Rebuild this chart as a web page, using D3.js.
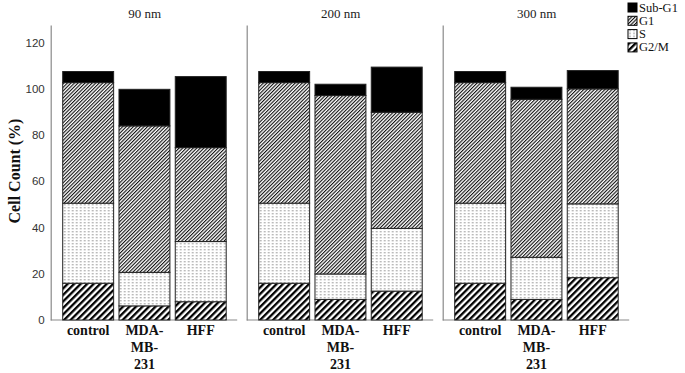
<!DOCTYPE html>
<html>
<head>
<meta charset="utf-8">
<script src="https://cdn.jsdelivr.net/npm/d3@7"></script>
<style>
  body { margin: 0; background: #fff; }
  svg { display: block; }
</style>
</head>
<body>
<div id="chart"></div>
<script>
// panels, cell lines and phases
const sizes = ["90 nm", "200 nm", "300 nm"];
const cells = ["control", "MDA-MB-231", "HFF"];
const cellLabels = [["control"], ["MDA-", "MB-", "231"], ["HFF"]];
const phases = ["G2/M", "S", "G1", "Sub-G1"];   // bottom to top
const legendOrder = ["Sub-G1", "G1", "S", "G2/M"];
const yTicks = [0, 20, 40, 60, 80, 100, 120];

// values per panel (rows) and cell line (columns), in %
const g2m   = [[15.9, 6.1, 7.9], [15.9, 8.9, 12.5], [15.9, 8.9, 18.3]];
const sPh   = [[34.6, 14.5, 26.0], [34.6, 11.0, 27.1], [34.6, 18.2, 31.9]];
const g1    = [[52.1, 63.3, 40.6], [52.1, 77.1, 50.2], [52.1, 68.3, 49.7]];
const subG1 = [[4.8, 15.8, 30.7], [4.8, 4.9, 19.5], [4.8, 5.2, 7.9]];

const width = 685, height = 373;
const svg = d3.select("#chart").append("svg")
    .attr("width", width)
    .attr("height", height);

// fill patterns
const defs = svg.append("defs");
function stripes(id, period, thick, color) {
    const p = defs.append("pattern")
        .attr("id", id)
        .attr("patternUnits", "userSpaceOnUse")
        .attr("width", period).attr("height", 10)
        .attr("patternTransform", "rotate(45)");
    p.append("rect").attr("width", period).attr("height", 10).attr("fill", "#fff");
    p.append("rect").attr("width", thick).attr("height", 10).attr("fill", color);
}
stripes("pG1", 2.5, 1.1, "#111");
stripes("pG2M", 4.6, 2.3, "#000");
const dots = defs.append("pattern")
    .attr("id", "pS")
    .attr("patternUnits", "userSpaceOnUse")
    .attr("width", 4).attr("height", 3);
dots.append("rect").attr("width", 4).attr("height", 3).attr("fill", "#fff");
dots.append("rect").attr("x", 1.5).attr("width", 1).attr("height", 1.4).attr("fill", "#777");

const fills = {"Sub-G1": "#000", "G1": "url(#pG1)", "S": "url(#pS)", "G2/M": "url(#pG2M)"};

// scales
const y = d3.scaleLinear().domain([0, 127.5]).range([320, 25]);
const panelX = d3.scaleBand().domain(sizes).range([50.7, 50.7 + 196 * 3]);
const barX = d3.scaleBand().domain(cells).range([12, 175.5]).paddingInner(0.095);

// rows for stacking
const rows = [];
sizes.forEach((sz, i) => {
    cells.forEach((c, j) => {
        rows.push({size: sz, cell: c,
            "G2/M": g2m[i][j], "S": sPh[i][j], "G1": g1[i][j], "Sub-G1": subG1[i][j]});
    });
});
const series = d3.stack().keys(phases)(rows);

const serif = "'Liberation Serif', 'Times New Roman', serif";

// panels
sizes.forEach((sz, i) => {
    const L = panelX(sz);
    const g = svg.append("g").attr("transform", `translate(${L},0)`);

    // axis line
    const ax = g.append("g").call(
        d3.axisLeft(y).tickValues(i === 0 ? yTicks : []).tickSize(0).tickSizeOuter(0).tickPadding(6)
    );
    ax.select(".domain").attr("stroke", "#8a8a8a").attr("stroke-width", 1.2);
    ax.selectAll("text")
        .attr("font-family", "'Liberation Sans', Arial, sans-serif")
        .attr("font-size", 11.5)
        .attr("fill", "#333");

    // baseline
    g.append("line")
        .attr("x1", 0).attr("x2", 186.5)
        .attr("y1", y(0)).attr("y2", y(0))
        .attr("stroke", "#8a8a8a").attr("stroke-width", 1.2);

    // title
    g.append("text")
        .attr("x", 94).attr("y", 18)
        .attr("text-anchor", "middle")
        .attr("font-family", serif)
        .attr("font-size", 13)
        .attr("fill", "#222")
        .text(sz);

    // stacked bars
    series.forEach(s => {
        g.selectAll(null)
            .data(s.filter(d => d.data.size === sz))
            .enter().append("rect")
            .attr("x", d => barX(d.data.cell))
            .attr("width", barX.bandwidth())
            .attr("y", d => y(d[1]))
            .attr("height", d => y(d[0]) - y(d[1]))
            .attr("fill", fills[s.key])
            .attr("stroke", "#222")
            .attr("stroke-width", 1);
    });

    // category labels
    cells.forEach((c, j) => {
        const t = g.append("text")
            .attr("text-anchor", "middle")
            .attr("font-family", serif)
            .attr("font-weight", "bold")
            .attr("font-size", 14)
            .attr("fill", "#111");
        cellLabels[j].forEach((line, k) => {
            t.append("tspan")
                .attr("x", barX(c) + barX.bandwidth() / 2)
                .attr("y", 335 + k * 17)
                .text(line);
        });
    });
});

// y axis title
svg.append("text")
    .attr("transform", "translate(20,171) rotate(-90)")
    .attr("text-anchor", "middle")
    .attr("font-family", serif)
    .attr("font-weight", "bold")
    .attr("font-size", 16)
    .attr("fill", "#111")
    .text("Cell Count (%)");

// legend
const legend = svg.append("g").attr("transform", "translate(628,3)");
legendOrder.forEach((k, i) => {
    const row = legend.append("g").attr("transform", `translate(0,${i * 13.3})`);
    row.append("rect")
        .attr("width", 9).attr("height", 9)
        .attr("fill", fills[k])
        .attr("stroke", "#000").attr("stroke-width", 1);
    row.append("text")
        .attr("x", 11).attr("y", 8.5)
        .attr("font-family", serif)
        .attr("font-size", 12.5)
        .attr("fill", "#111")
        .text(k);
});
</script>
</body>
</html>
